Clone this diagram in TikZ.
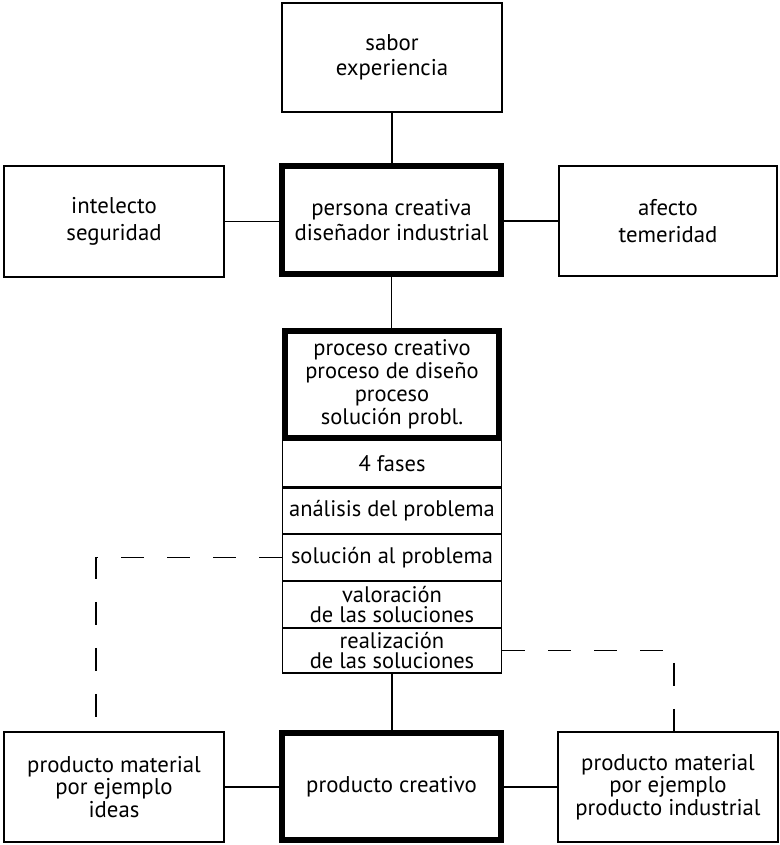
\documentclass[tikz,border=0pt]{standalone}
\usepackage{fontspec}
\setmainfont{PT Sans}
\begin{document}
\begin{tikzpicture}[x=1pt,y=-1pt,
  box/.style={draw, line width=1.6pt, align=center, inner sep=0pt, font=\fontsize{22.8}{25}\selectfont},
  heavybox/.style={box, line width=6pt},
  cell/.style={draw, line width=1.8pt, align=center, inner sep=0pt, minimum width=219, font=\fontsize{22.5}{20.5}\selectfont},
  conn/.style={line width=1.4pt},
  dashconn/.style={line width=1.6pt, dash pattern=on 23pt off 23pt}]
\useasboundingbox (0,0) rectangle (779,845);
% top row
\node[box, minimum width=220, minimum height=109] (top) at (392,57.5) {sabor\\experiencia};
\node[box, minimum width=220, minimum height=111, font=\fontsize{22.8}{26.5}\selectfont] (left) at (114,221.5) {intelecto\\seguridad};
\node[heavybox, minimum width=219, minimum height=108] (person) at (391.5,220) {persona creativa\\diseñador industrial};
\node[box, minimum width=218, minimum height=110, font=\fontsize{22.8}{26.5}\selectfont] (right) at (668,221) {afecto\\temeridad};
% process
\node[heavybox, minimum width=214, minimum height=106.5, font=\fontsize{22.5}{23}\selectfont] (process) at (392,384.25) {proceso creativo\\proceso de diseño\\proceso\\solución probl.};
\node[cell, minimum height=48] (fases) at (392,464) {4 fases};
\node[cell, minimum height=47] (anal) at (392,510.5) {análisis del problema};
\node[cell, minimum height=47] (sol) at (392,557.5) {solución al problema};
\node[cell, minimum height=47] (val) at (392,604.5) {valoración\\de las soluciones};
\node[cell, minimum height=45] (real) at (392,650.5) {realización\\de las soluciones};
% bottom row
\node[box, minimum width=220, minimum height=110, font=\fontsize{22.8}{22.5}\selectfont] (pleft) at (114,787) {producto material\\por ejemplo\\ideas};
\node[heavybox, minimum width=219, minimum height=107] (prod) at (391.5,786.5) {producto creativo};
\node[box, minimum width=220, minimum height=110, font=\fontsize{22.8}{22.5}\selectfont] (pright) at (668,787) {producto material\\por ejemplo\\producto industrial};
% connectors
\draw[conn] (top.south) -- (top.south |- person.north);
\draw[conn] (left.east) -- (left.east -| person.west);
\draw[conn] (right.west) -- (right.west -| person.east);
\draw[conn] (person.south) -- (person.south |- process.north);
\draw[conn] (real.south) -- (real.south |- prod.north);
\draw[conn] (pleft.east) -- (pleft.east -| prod.west);
\draw[conn] (pright.west) -- (pright.west -| prod.east);
% dashed
\coordinate (lcorner) at (96,557.5);
\coordinate (rcorner) at (674,650.5);
\draw[dashconn] (sol.west) -- (lcorner) -- (lcorner |- pleft.north);
\draw[dashconn] (real.east) -- (rcorner) -- (rcorner |- pright.north);
\end{tikzpicture}
\end{document}
